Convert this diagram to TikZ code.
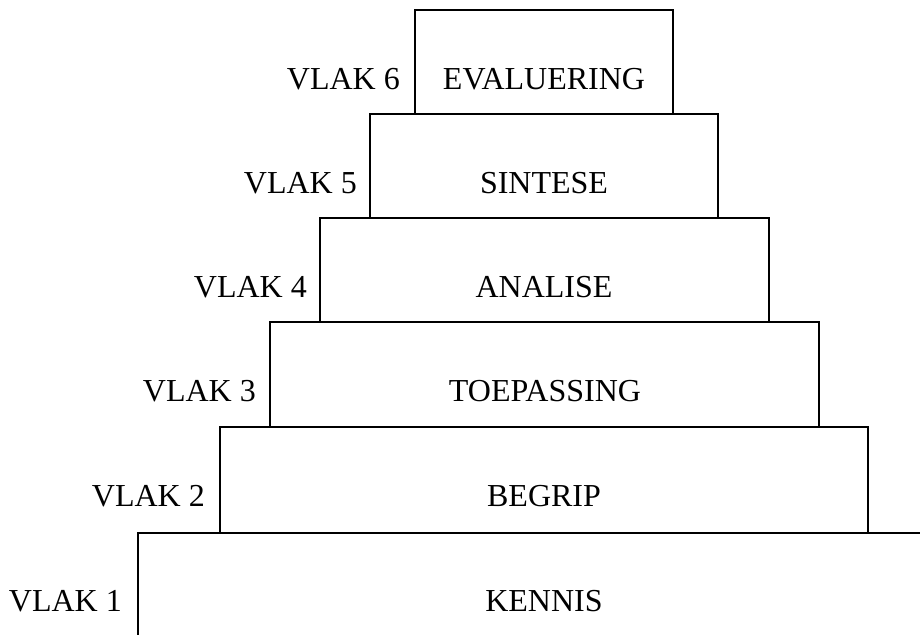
\documentclass[tikz,border=0pt]{standalone}
\usepackage{fontspec}
\setmainfont{Liberation Serif}
\begin{document}
\begin{tikzpicture}[x=1pt,y=-1pt,
  tier/.style={draw,line width=2pt,inner sep=0pt},
  word/.style={anchor=base,inner sep=0pt,font=\fontsize{32}{38}\selectfont},
  lvl/.style={anchor=base east,inner sep=0pt,font=\fontsize{32}{38}\selectfont}]
\useasboundingbox (0,0) rectangle (920,634);
% boxes 6..2
\node[tier,minimum width=258pt,minimum height=104pt] (b6) at (544,62) {};
\node[tier,minimum width=348pt,minimum height=104pt] (b5) at (544,166) {};
\node[tier,minimum width=449pt,minimum height=104pt] (b4) at (544.5,270) {};
\node[tier,minimum width=549pt,minimum height=105pt] (b3) at (544.5,374.5) {};
\node[tier,minimum width=648pt,minimum height=106pt] (b2) at (544,480) {};
% box 1 (open)
\coordinate (b1tr) at (921,533);
\coordinate (b1bl) at (138,635);
\draw[line width=2pt] (b1bl) |- (b1tr);
% box texts
\node[word] (t6) at (544,89) {EVALUERING};
\node[word] (t5) at (544,193) {SINTESE};
\node[word] (t4) at (544,297) {ANALISE};
\node[word] (t3) at (545,401) {TOEPASSING};
\node[word] (t2) at (544,506) {BEGRIP};
\node[word] (t1) at (544,611) {KENNIS};
% labels
\node[lvl] (l6) at (400,89) {VLAK 6};
\node[lvl] (l5) at (357,193) {VLAK 5};
\node[lvl] (l4) at (307,297) {VLAK 4};
\node[lvl] (l3) at (256,401) {VLAK 3};
\node[lvl] (l2) at (205,506) {VLAK 2};
\node[lvl] (l1) at (122,611) {VLAK 1};
\end{tikzpicture}
\end{document}
